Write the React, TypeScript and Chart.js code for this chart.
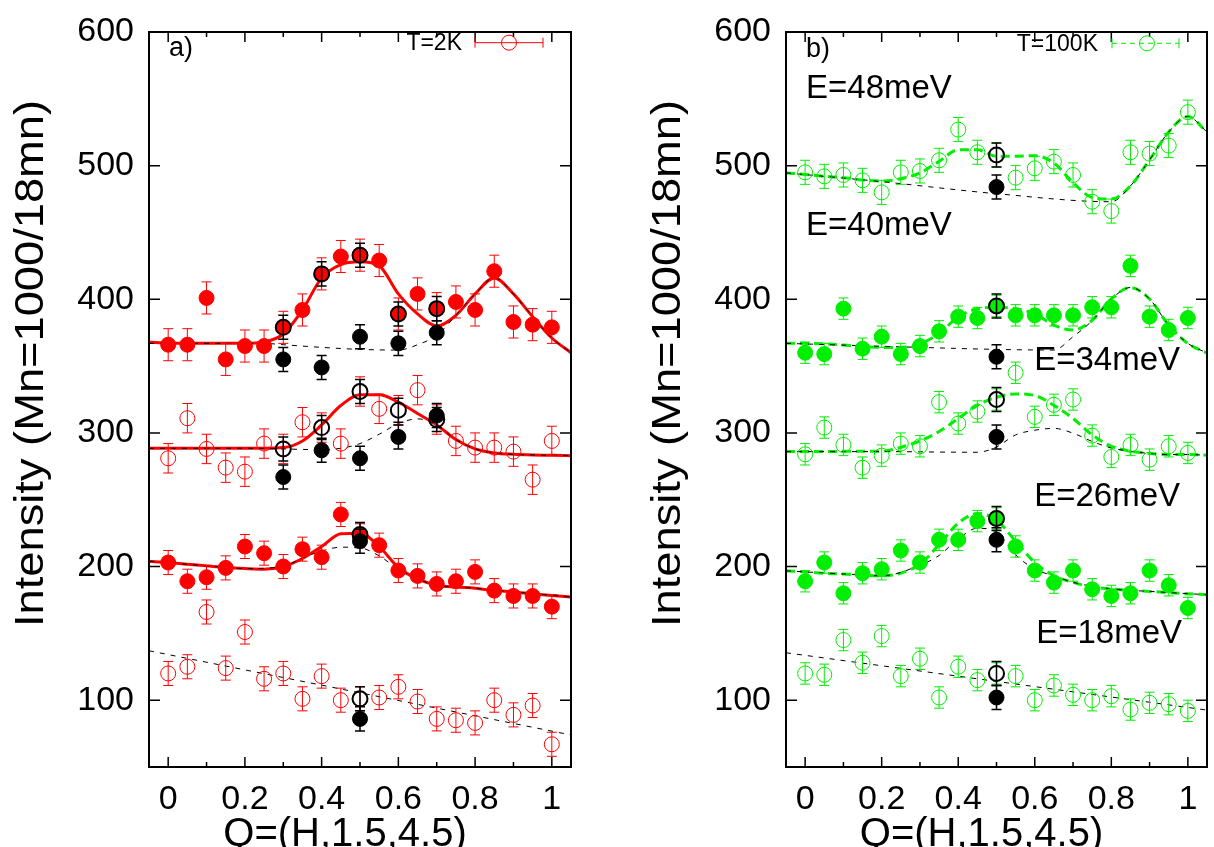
import React, { useEffect, useRef } from 'react';
import { Chart, registerables } from 'chart.js';

Chart.register(...registerables);

const FONT = '"Liberation Sans", Arial, Helvetica, sans-serif';
const RED = '#ff0000';
const GREEN = '#00ee00';
const BLACK = '#000000';

// ---------- axes ----------
const X_MAJOR_TICKS = [0, 0.2, 0.4, 0.6, 0.8, 1];
const X_MINOR_TICKS = [0.1, 0.3, 0.5, 0.7, 0.9];
const Y_TICKS = [100, 200, 300, 400, 500, 600];
const Y_TITLE = 'Intensity (Mn=1000/18mn)';
const X_TITLE = 'Q=(H,1.5,4.5)';

// ---------- Q grids ----------
const Q = [0, 0.05, 0.1, 0.15, 0.2, 0.25, 0.3, 0.35, 0.4, 0.45, 0.5, 0.55, 0.6, 0.65, 0.7, 0.75, 0.8, 0.85, 0.9, 0.95, 1];
const Q_FIT = [-0.05, 0, 0.05, 0.1, 0.15, 0.2, 0.25, 0.3, 0.35, 0.4, 0.45, 0.5, 0.55, 0.6, 0.65, 0.7, 0.75, 0.8, 0.85, 0.9, 0.95, 1, 1.05];
const Q_BLACK = [0.3, 0.4, 0.5, 0.6, 0.7];
const Q_HALF = [0.5];

// ---------- panel a) T=2K ----------
const A40 = [366, 366, 401, 355, 365, 365, 379, 392, 419, 432, 433, 429, 389, 404, 393, 398, 392, 421, 383, 381, 379];
const A34 = [281, 311, 288, 274, 271, 292, 288, 308, 304, 292, 331, 318, 317, 332, 310, 294, 289, 289, 286, 265, 294];
const A26 = [203, 189, 192, 199, 215, 210, 200, 213, 207, 239, 223, 216, 197, 193, 187, 189, 196, 182, 178, 178, 170];
const A18 = [120, 125, 166, 124, 151, 116, 120, 101, 118, 100, 101, 102, 110, 99, 86, 85, 83, 100, 89, 96, 67];
const A40_ERR = 12;
const A34_ERR = 11;
const A26_ERR = 9;
const A18_ERR = 9;

const A40_BLACK_OPEN = [379, 419, 433, 389, 393];
const A40_BLACK_FILLED = [355, 349, 372, 367, 375];
const A34_BLACK_OPEN = [288, 304, 331, 317, 310];
const A34_BLACK_FILLED = [267, 287, 281, 297, 313];
const A26_BLACK_OPEN = [224];
const A26_BLACK_FILLED = [219];
const A18_BLACK_OPEN = [101];
const A18_BLACK_FILLED = [86];
const A_BLACK_ERR = 9;

const A40_FIT = [368, 367, 367, 367, 367, 367, 368, 374, 392, 416, 426, 428, 425, 404, 389, 380, 388, 404, 416, 404, 387, 371, 360];
const A34_FIT = [288.5, 288.5, 288.5, 288.5, 288.5, 288.5, 288.5, 289, 294, 306, 320.5, 328.5, 328.5, 323, 314.5, 306, 295, 288, 285, 284, 283.5, 283.3, 283];
const A26_FIT = [204, 203, 201.7, 200.5, 199.3, 198.5, 198, 200, 206, 215, 224.5, 225, 215, 199.3, 190.7, 186, 184.6, 183.8, 182, 181, 179.6, 178.4, 177.2];

const A40_BG_Q = [-0.05, 0.1, 0.25, 0.3, 0.4, 0.5, 0.6, 0.65, 0.7, 0.75, 0.8, 0.85, 0.9, 0.95, 1, 1.05];
const A40_BG = [367, 367, 367, 366, 364, 362.5, 362, 366, 373, 388, 404, 416, 404, 387, 371, 360];
const A34_BG_Q = [-0.05, 0.2, 0.4, 0.45, 0.5, 0.55, 0.6, 0.65, 0.7, 0.75, 0.8, 0.85, 0.9, 1.05];
const A34_BG = [288.5, 288.5, 287.5, 288.5, 292, 299, 307, 310.5, 306, 295, 288, 285, 284, 283];
const A26_BG_Q = [-0.05, 0.1, 0.2, 0.3, 0.35, 0.4, 0.45, 0.5, 0.55, 0.6, 0.65, 0.7, 0.8, 0.9, 1.05];
const A26_BG = [204, 200.5, 198.5, 200, 206.5, 211.5, 214.5, 214, 208, 198, 190.7, 186, 183.8, 181, 177.2];
const A18_BG_Q = [-0.05, 1.05];
const A18_BG = [137, 74];

// ---------- panel b) T=100K ----------
const B48 = [495, 492, 493, 489, 480, 495, 496, 504, 527, 510, 508, 491, 498, 503, 493, 473, 466, 510, 509, 515, 540];
const B40 = [360, 359, 393, 363, 372, 359, 365, 376, 387, 386, 395, 388, 388, 388, 388, 394, 394, 425, 387, 377, 386];
const B34 = [284, 304, 291, 274, 283, 292, 290, 323, 307, 316, 325, 345, 312, 321, 325, 298, 282, 291, 280, 290, 285];
const B26 = [189, 203, 180, 195, 198, 212, 203, 220, 220, 234, 236, 215, 197, 188, 197, 183, 178, 180, 197, 186, 169];
const B18 = [120, 119, 145, 128, 148, 118, 131, 102, 125, 115, 120, 118, 100, 111, 104, 100, 103, 93, 98, 97, 92];
const B48_ERR = 9;
const B40_ERR = 8;
const B34_ERR = 8;
const B26_ERR = 8;
const B18_ERR = 8;

const B48_BLACK_OPEN = [508];
const B48_BLACK_FILLED = [484];
const B40_BLACK_OPEN = [395];
const B40_BLACK_FILLED = [357];
const B34_BLACK_OPEN = [325];
const B34_BLACK_FILLED = [297];
const B26_BLACK_OPEN = [236];
const B26_BLACK_FILLED = [220];
const B18_BLACK_OPEN = [120];
const B18_BLACK_FILLED = [102];
const B_BLACK_ERR = 9;

const B48_FIT = [494.6, 493.4, 492, 491, 489.2, 488.5, 490.2, 494.6, 503.2, 511.8, 511.8, 507, 507, 507.4, 502, 487.3, 476.2, 475, 484.8, 504.4, 525.2, 536.8, 525.2];
const B40_FIT = [367, 367, 366.7, 365.7, 364.7, 364, 364, 366.7, 374.5, 386.8, 392.9, 394, 392.9, 389.2, 380.6, 377, 384.3, 400.2, 408.8, 400.2, 380.6, 367, 359.8];
const B34_FIT = [286, 286, 286, 286.2, 286.3, 286.3, 289.2, 294, 301, 310.8, 320.6, 326.7, 329.2, 328, 320.6, 310.8, 298.5, 290, 286.3, 284.6, 283.8, 283.8, 283.3];
const B26_FIT = [196.8, 196, 195, 194.4, 193.6, 193.1, 195.1, 201.7, 216.4, 232.4, 239.7, 234.8, 218.9, 203, 193.1, 188.2, 184.6, 183.3, 182.1, 181.4, 180.4, 179.6, 178.9];

const B48_BG_Q = [-0.05, 0.2, 0.5, 0.8, 0.85, 0.9, 0.95, 1, 1.05];
const B48_BG = [494.6, 488, 479, 473, 484.8, 504.4, 525.2, 536.8, 525.2];
const B40_BG_Q = [-0.05, 0.3, 0.5, 0.65, 0.7, 0.75, 0.8, 0.85, 0.9, 0.95, 1, 1.05];
const B40_BG = [367, 364, 362.5, 362, 372, 384, 400.2, 408.8, 400.2, 380.6, 367, 359.8];
const B34_BG_Q = [-0.05, 0.2, 0.45, 0.5, 0.55, 0.6, 0.65, 0.7, 0.75, 0.8, 0.85, 0.9, 0.95, 1, 1.05];
const B34_BG = [286, 286, 285.5, 289.5, 298.5, 302, 303.4, 299.8, 293.6, 288.7, 286.3, 284.6, 283.8, 283.8, 283.3];
const B26_BG_Q = [-0.05, 0.1, 0.2, 0.3, 0.35, 0.4, 0.45, 0.5, 0.55, 0.6, 0.65, 0.7, 0.8, 0.9, 1.05];
const B26_BG = [196.8, 194.4, 193.1, 201, 208.3, 220.6, 228.7, 225.5, 208.8, 198, 193.1, 188.2, 183.3, 181.4, 178.9];
const B18_BG_Q = [-0.05, 1.05];
const B18_BG = [135.5, 92.6];

// ---------- helpers ----------
function pts(xs: number[], ys: number[]) {
  return xs.map((x, i) => ({ x, y: ys[i] }));
}

function markers(xs: number[], ys: number[], color: string, filled: boolean, err: number, order: number, bw = 1, barWidth = 1) {
  return {
    data: pts(xs, ys),
    showLine: false,
    pointStyle: 'circle',
    pointRadius: 7.5,
    pointHoverRadius: 7.5,
    pointBackgroundColor: filled ? color : 'rgba(0,0,0,0)',
    pointBorderColor: color,
    pointBorderWidth: bw,
    pointHoverBorderWidth: bw,
    errors: err,
    errColor: color,
    errWidth: barWidth,
    order,
  };
}

function curve(xs: number[], ys: number[], color: string, width: number, dash: number[], order: number) {
  return {
    data: pts(xs, ys),
    showLine: true,
    pointRadius: 0,
    pointHoverRadius: 0,
    borderColor: color,
    borderWidth: width,
    borderDash: dash,
    cubicInterpolationMode: 'monotone',
    fill: false,
    order,
  };
}

const errorBarPlugin = {
  id: 'errorBars',
  afterDatasetDraw(chart: any, args: any) {
    const ds = chart.data.datasets[args.index];
    if (ds.errors == null) return;
    const ys = chart.scales.y;
    const ctx = chart.ctx;
    const ca = chart.chartArea;
    ctx.save();
    ctx.beginPath();
    ctx.rect(ca.left, ca.top, ca.right - ca.left, ca.bottom - ca.top);
    ctx.clip();
    ctx.strokeStyle = ds.errColor;
    ctx.lineWidth = ds.errWidth;
    ctx.beginPath();
    args.meta.data.forEach((el: any, i: number) => {
      const raw = ds.data[i];
      const x = el.x;
      const yTop = ys.getPixelForValue(raw.y + ds.errors);
      const yBot = ys.getPixelForValue(raw.y - ds.errors);
      ctx.moveTo(x, yTop);
      ctx.lineTo(x, yBot);
      ctx.moveTo(x - 5, yTop);
      ctx.lineTo(x + 5, yTop);
      ctx.moveTo(x - 5, yBot);
      ctx.lineTo(x + 5, yBot);
    });
    ctx.stroke();
    ctx.restore();
  },
};

function makeDecor(d: any) {
  return {
    id: 'decor',
    afterDatasetsDraw(chart: any) {
      const { ctx, chartArea: ca, scales } = chart;
      const xs = scales.x;
      const ys = scales.y;
      ctx.save();
      ctx.strokeStyle = '#000';
      ctx.lineWidth = 1.5;
      ctx.beginPath();
      const xt = (q: number, len: number) => {
        const px = xs.getPixelForValue(q);
        ctx.moveTo(px, ca.bottom);
        ctx.lineTo(px, ca.bottom - len);
        ctx.moveTo(px, ca.top);
        ctx.lineTo(px, ca.top + len);
      };
      X_MAJOR_TICKS.forEach((q) => xt(q, 10));
      X_MINOR_TICKS.forEach((q) => xt(q, 5));
      Y_TICKS.forEach((v) => {
        const py = ys.getPixelForValue(v);
        ctx.moveTo(ca.left, py);
        ctx.lineTo(ca.left + 11, py);
        ctx.moveTo(ca.right, py);
        ctx.lineTo(ca.right - 11, py);
      });
      ctx.stroke();
      ctx.lineWidth = 2;
      ctx.strokeRect(ca.left, ca.top, ca.right - ca.left, ca.bottom - ca.top);
      ctx.restore();
    },
    afterDraw(chart: any) {
      const { ctx, chartArea: ca } = chart;
      ctx.save();
      ctx.fillStyle = '#000';
      // y title
      ctx.save();
      ctx.font = `41px ${FONT}`;
      const w = ctx.measureText(Y_TITLE).width;
      ctx.translate(d.yTitleX, 363.5);
      ctx.rotate(-Math.PI / 2);
      ctx.scale(527 / w, 1);
      ctx.textAlign = 'center';
      ctx.textBaseline = 'alphabetic';
      ctx.fillText(Y_TITLE, 0, 0);
      ctx.restore();
      // x title
      ctx.font = `40px ${FONT}`;
      ctx.textAlign = 'center';
      ctx.textBaseline = 'alphabetic';
      ctx.fillText(X_TITLE, (ca.left + ca.right) / 2 - 15, 846);
      // panel label
      ctx.font = `27px ${FONT}`;
      ctx.textAlign = 'left';
      ctx.fillText(d.panel.text, d.panel.x, d.panel.y);
      // energies
      ctx.font = `33px ${FONT}`;
      d.energies.forEach((e: any) => {
        ctx.textAlign = e.align;
        ctx.fillText(e.text, e.x, e.y);
      });
      // legend
      const L = d.legend;
      ctx.font = `23px ${FONT}`;
      ctx.textAlign = 'right';
      ctx.fillText(L.text, L.textRight, L.textY);
      ctx.strokeStyle = L.color;
      ctx.lineWidth = 1;
      ctx.beginPath();
      ctx.setLineDash(L.dashed ? [5, 4] : []);
      ctx.moveTo(L.x1, L.y);
      ctx.lineTo(L.x2, L.y);
      ctx.stroke();
      ctx.setLineDash([]);
      ctx.beginPath();
      ctx.moveTo(L.x1, L.y - 5);
      ctx.lineTo(L.x1, L.y + 5);
      ctx.moveTo(L.x2, L.y - 5);
      ctx.lineTo(L.x2, L.y + 5);
      ctx.stroke();
      ctx.beginPath();
      ctx.arc(L.cx, L.y, 7.5, 0, Math.PI * 2);
      ctx.stroke();
      ctx.restore();
    },
  };
}

function baseConfig(datasets: any[], yWidth: number, padRight: number, decor: any) {
  return {
    type: 'line',
    data: { datasets },
    plugins: [errorBarPlugin, makeDecor(decor)],
    options: {
      responsive: false,
      maintainAspectRatio: false,
      animation: false,
      events: [],
      layout: { autoPadding: false, padding: { left: 0, top: 20, right: padRight, bottom: 0 } },
      plugins: { legend: { display: false }, tooltip: { enabled: false } },
      scales: {
        x: {
          type: 'linear',
          min: -0.05,
          max: 1.05,
          afterBuildTicks: (s: any) => {
            s.ticks = X_MAJOR_TICKS.map((v) => ({ value: v }));
          },
          afterFit: (s: any) => {
            s.height = 80;
          },
          grid: { display: false, drawTicks: false },
          border: { display: false },
          ticks: {
            font: { family: FONT, size: 34, lineHeight: 1.2 },
            color: '#000',
            padding: 12,
            maxRotation: 0,
            autoSkip: false,
            callback: (v: any) => String(Math.round(Number(v) * 10) / 10),
          },
        },
        y: {
          type: 'linear',
          min: 50,
          max: 600,
          afterBuildTicks: (s: any) => {
            s.ticks = Y_TICKS.map((v) => ({ value: v }));
          },
          afterFit: (s: any) => {
            s.width = yWidth;
          },
          grid: { display: false, drawTicks: false },
          border: { display: false },
          ticks: {
            font: { family: FONT, size: 34, lineHeight: 1 },
            color: '#000',
            padding: 15,
            callback: (v: any) => String(v),
          },
        },
      },
    },
  };
}

function makePanelA() {
  const ds = [
    curve(Q_FIT, A40_FIT, RED, 3, [], 50),
    curve(Q_FIT, A34_FIT, RED, 3, [], 50),
    curve(Q_FIT, A26_FIT, RED, 3, [], 50),
    curve(A40_BG_Q, A40_BG, BLACK, 1, [5, 6], 40),
    curve(A34_BG_Q, A34_BG, BLACK, 1, [5, 6], 40),
    curve(A26_BG_Q, A26_BG, BLACK, 1, [5, 6], 40),
    curve(A18_BG_Q, A18_BG, BLACK, 1, [5, 6], 40),
    markers(Q, A40, RED, true, A40_ERR, 30),
    markers(Q, A34, RED, false, A34_ERR, 30),
    markers(Q, A26, RED, true, A26_ERR, 30),
    markers(Q, A18, RED, false, A18_ERR, 30),
    markers(Q_BLACK, A40_BLACK_FILLED, BLACK, true, A_BLACK_ERR, 20, 1, 1.5),
    markers(Q_BLACK, A34_BLACK_FILLED, BLACK, true, A_BLACK_ERR, 20, 1, 1.5),
    markers(Q_HALF, A26_BLACK_FILLED, BLACK, true, A_BLACK_ERR, 20, 1, 1.5),
    markers(Q_HALF, A18_BLACK_FILLED, BLACK, true, A_BLACK_ERR, 20, 1, 1.5),
    markers(Q_BLACK, A40_BLACK_OPEN, BLACK, false, A_BLACK_ERR, 10, 2, 1.5),
    markers(Q_BLACK, A34_BLACK_OPEN, BLACK, false, A_BLACK_ERR, 10, 2, 1.5),
    markers(Q_HALF, A26_BLACK_OPEN, BLACK, false, A_BLACK_ERR, 10, 2, 1.5),
    markers(Q_HALF, A18_BLACK_OPEN, BLACK, false, A_BLACK_ERR, 10, 2, 1.5),
  ];
  return baseConfig(ds, 149, 36, {
    yTitleX: 43,
    panel: { text: 'a)', x: 169, y: 56 },
    energies: [],
    legend: { text: 'T=2K', textRight: 462, textY: 50, x1: 475, x2: 543, cx: 509, y: 42.7, color: RED, dashed: false },
  });
}

function makePanelB() {
  const ds = [
    curve(Q_FIT, B48_FIT, GREEN, 3, [9, 5], 50),
    curve(Q_FIT, B40_FIT, GREEN, 3, [9, 5], 50),
    curve(Q_FIT, B34_FIT, GREEN, 3, [9, 5], 50),
    curve(Q_FIT, B26_FIT, GREEN, 3, [9, 5], 50),
    curve(B48_BG_Q, B48_BG, BLACK, 1, [5, 6], 40),
    curve(B40_BG_Q, B40_BG, BLACK, 1, [5, 6], 40),
    curve(B34_BG_Q, B34_BG, BLACK, 1, [5, 6], 40),
    curve(B26_BG_Q, B26_BG, BLACK, 1, [5, 6], 40),
    curve(B18_BG_Q, B18_BG, BLACK, 1, [5, 6], 40),
    markers(Q, B48, GREEN, false, B48_ERR, 30),
    markers(Q, B40, GREEN, true, B40_ERR, 30),
    markers(Q, B34, GREEN, false, B34_ERR, 30),
    markers(Q, B26, GREEN, true, B26_ERR, 30),
    markers(Q, B18, GREEN, false, B18_ERR, 30),
    markers(Q_HALF, B48_BLACK_FILLED, BLACK, true, B_BLACK_ERR, 20, 1, 1.5),
    markers(Q_HALF, B40_BLACK_FILLED, BLACK, true, B_BLACK_ERR, 20, 1, 1.5),
    markers(Q_HALF, B34_BLACK_FILLED, BLACK, true, B_BLACK_ERR, 20, 1, 1.5),
    markers(Q_HALF, B26_BLACK_FILLED, BLACK, true, B_BLACK_ERR, 20, 1, 1.5),
    markers(Q_HALF, B18_BLACK_FILLED, BLACK, true, B_BLACK_ERR, 20, 1, 1.5),
    markers(Q_HALF, B48_BLACK_OPEN, BLACK, false, B_BLACK_ERR, 10, 2, 1.5),
    markers(Q_HALF, B40_BLACK_OPEN, BLACK, false, B_BLACK_ERR, 10, 2, 1.5),
    markers(Q_HALF, B34_BLACK_OPEN, BLACK, false, B_BLACK_ERR, 10, 2, 1.5),
    markers(Q_HALF, B26_BLACK_OPEN, BLACK, false, B_BLACK_ERR, 10, 2, 1.5),
    markers(Q_HALF, B18_BLACK_OPEN, BLACK, false, B_BLACK_ERR, 10, 2, 1.5),
  ];
  return baseConfig(ds, 179, 7, {
    yTitleX: 73,
    panel: { text: 'b)', x: 199, y: 57 },
    energies: [
      { text: 'E=48meV', x: 199, y: 98, align: 'left' },
      { text: 'E=40meV', x: 199, y: 235, align: 'left' },
      { text: 'E=34meV', x: 573, y: 370, align: 'right' },
      { text: 'E=26meV', x: 573, y: 506, align: 'right' },
      { text: 'E=18meV', x: 575, y: 642.5, align: 'right' },
    ],
    legend: { text: 'T=100K', textRight: 491, textY: 50.7, x1: 505, x2: 572, cx: 540, y: 43.3, color: GREEN, dashed: true },
  });
}

function Panel({ make, left }: { make: () => any; left: number }) {
  const ref = useRef<HTMLCanvasElement>(null);
  useEffect(() => {
    const chart = new Chart(ref.current as HTMLCanvasElement, make());
    return () => chart.destroy();
  }, [make]);
  return (
    <canvas
      ref={ref}
      width={607}
      height={847}
      style={{ position: 'absolute', left, top: 0, width: 607, height: 847, display: 'block' }}
    />
  );
}

export default function App() {
  return (
    <div style={{ position: 'absolute', left: 0, top: 0, width: 1214, height: 847, overflow: 'hidden', background: '#fff' }}>
      <Panel make={makePanelA} left={0} />
      <Panel make={makePanelB} left={607} />
    </div>
  );
}
